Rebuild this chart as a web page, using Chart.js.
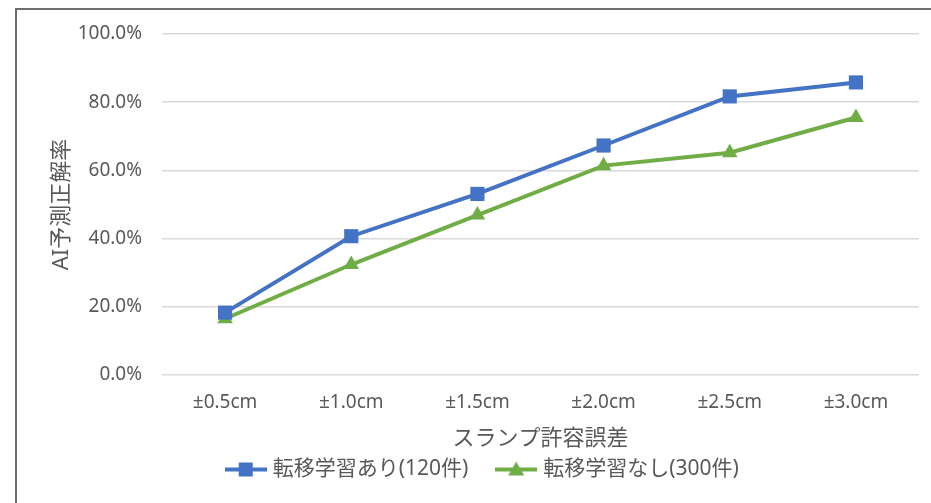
<!DOCTYPE html>
<html>
<head>
<meta charset="utf-8">
<script src="https://cdn.jsdelivr.net/npm/chart.js@4.4.0/dist/chart.umd.min.js"></script>
<style>
  html, body { margin: 0; padding: 0; background: #ffffff; }
  #wrap { position: relative; width: 931px; height: 503px; }
</style>
</head>
<body>
<div id="wrap"><canvas id="chart1" width="931" height="503"></canvas></div>
<script>
const categories = ["±0.5cm", "±1.0cm", "±1.5cm", "±2.0cm", "±2.5cm", "±3.0cm"];
const dataTransfer = [18.3, 40.7, 53.1, 67.3, 81.7, 85.8];
const dataNoTransfer = [16.5, 32.4, 46.9, 61.4, 65.2, 75.5];
const seriesNames = ["転移学習あり(120件)", "転移学習なし(300件)"];
const colorTransfer = "#4472C4";
const colorNoTransfer = "#70AD47";
const fontFamily = '"Noto Sans", "Noto Sans CJK JP", sans-serif';
const textColor = "#595959";

// petite icone de legende : trait + marqueur
function legendIcon(color, shape) {
  const c = document.createElement("canvas");
  c.width = 42;
  c.height = 18;
  const g = c.getContext("2d");
  g.strokeStyle = color;
  g.lineWidth = 4;
  g.beginPath();
  g.moveTo(0, 9);
  g.lineTo(42, 9);
  g.stroke();
  g.fillStyle = color;
  if (shape === "rect") {
    g.fillRect(14, 2, 14, 14);
  } else {
    g.beginPath();
    g.moveTo(21, 1);
    g.lineTo(29, 15);
    g.lineTo(13, 15);
    g.closePath();
    g.fill();
  }
  return c;
}

const frame = {
  id: "frame",
  afterDraw(chart) {
    const g = chart.ctx;
    g.save();
    g.strokeStyle = "#6e6e6e";
    g.lineWidth = 2;
    g.strokeRect(16, 9, 1000, 600);
    g.restore();
  },
};

const ctx = document.getElementById("chart1");

const chart = new Chart(ctx, {
  type: "line",
  data: {
    labels: categories,
    datasets: [
      {
        label: seriesNames[0],
        data: dataTransfer,
        borderColor: colorTransfer,
        backgroundColor: colorTransfer,
        borderWidth: 4,
        pointStyle: "rect",
        pointRadius: 10,
        pointHoverRadius: 10,
        pointBorderWidth: 0,
        tension: 0,
      },
      {
        label: seriesNames[1],
        data: dataNoTransfer,
        borderColor: colorNoTransfer,
        backgroundColor: colorNoTransfer,
        borderWidth: 4,
        pointStyle: "triangle",
        pointRadius: 9,
        pointHoverRadius: 9,
        pointBorderWidth: 0,
        tension: 0,
      },
    ],
  },
  options: {
    responsive: false,
    animation: false,
    layout: {
      padding: { left: 49, right: 12, top: 34, bottom: 13 },
    },
    scales: {
      x: {
        offset: true,
        grid: { display: false },
        border: { display: false },
        ticks: {
          color: textColor,
          font: { family: fontFamily, size: 19 },
          padding: 8,
          maxRotation: 0,
        },
        title: {
          display: true,
          text: "スランプ許容誤差",
          color: textColor,
          font: { family: fontFamily, size: 22 },
          padding: { top: 0, bottom: 3 },
        },
        afterFit(scale) {
          scale.height = 80;
        },
      },
      y: {
        min: 0,
        max: 100,
        grid: { color: "#d9d9d9", lineWidth: 1.5, drawTicks: false },
        border: { display: false },
        ticks: {
          stepSize: 20,
          color: textColor,
          font: { family: fontFamily, size: 19 },
          padding: 20,
          callback: (v) => v.toFixed(1) + "%",
        },
        title: {
          display: true,
          text: "AI予測正解率",
          color: textColor,
          font: { family: fontFamily, size: 22 },
          padding: { top: 0, bottom: 0 },
        },
        afterFit(scale) {
          scale.width = 113;
        },
      },
    },
    plugins: {
      legend: {
        position: "bottom",
        labels: {
          color: textColor,
          font: { family: fontFamily, size: 21 },
          usePointStyle: true,
          pointStyleWidth: 33,
          padding: 4,
          generateLabels: (chart) =>
            chart.data.datasets.map((ds, i) => ({
              text: ds.label + (i === 0 ? "     " : ""),
              fontColor: textColor,
              pointStyle: legendIcon(ds.borderColor, i === 0 ? "rect" : "triangle"),
              datasetIndex: i,
              hidden: false,
            })),
        },
      },
      tooltip: { enabled: false },
    },
  },
  plugins: [frame],
});
</script>
</body>
</html>
